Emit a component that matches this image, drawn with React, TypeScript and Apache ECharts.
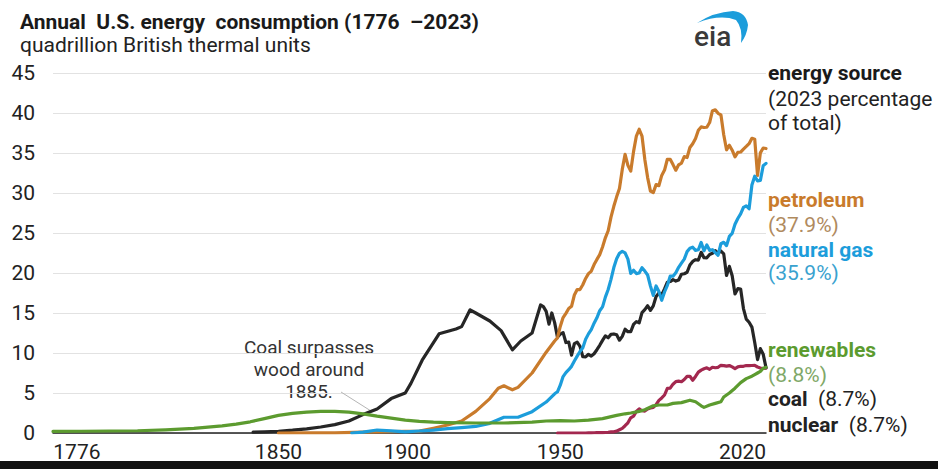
import React, { useEffect, useRef } from "react";
import * as echarts from "echarts";

// Axis extent (years) and the start of the annual record
const AXIS_START = 1770;
const AXIS_END = 2023;
const ANNUAL_FIRST = 1949;

// Tick labels
const yearTicks = [1776, 1850, 1900, 1950, 2020];

// Coal, quadrillion Btu
const coalEarlyYears = [1841, 1845, 1850, 1855, 1860, 1865, 1870, 1875, 1880, 1885, 1890, 1895, 1897, 1901, 1907, 1913, 1915, 1918, 1920, 1925, 1929, 1933, 1936, 1940, 1943, 1944, 1945, 1946, 1947, 1948];
const coalEarly = [0.1, 0.15, 0.22, 0.35, 0.52, 0.75, 1.05, 1.5, 2.3, 3.0, 4.3, 5.0, 6.2, 9.1, 12.4, 13.0, 13.3, 15.4, 15.0, 14.0, 12.8, 10.4, 11.5, 12.5, 16.0, 15.8, 15.2, 13.6, 15.0, 13.8];
const coalAnnual = [
  11.98, 12.35, 12.55, 11.31, 11.37, 9.72, 11.17, 11.35, 10.82, 9.53,
  9.52, 9.84, 9.62, 9.91, 10.41, 10.96, 11.58, 12.14, 11.91, 12.33,
  12.38, 12.27, 11.6, 12.08, 12.97, 12.66, 12.66, 13.58, 13.92, 13.77,
  15.04, 15.42, 15.91, 15.32, 15.89, 17.07, 17.48, 17.26, 18.01, 18.85,
  18.93, 19.17, 18.99, 19.12, 19.84, 19.91, 20.09, 21.0, 21.45, 21.66,
  21.62, 22.58, 21.91, 21.9, 22.32, 22.47, 22.8, 22.45, 22.75, 22.39,
  19.69, 20.83, 19.66, 17.38, 18.04, 17.99, 15.55, 14.23, 13.84, 13.24,
  11.31, 9.18, 10.55, 9.85, 8.17,
];

// Petroleum
const petroleumEarlyYears = [1850, 1860, 1870, 1880, 1890, 1900, 1905, 1910, 1915, 1920, 1925, 1928, 1930, 1933, 1935, 1940, 1945, 1948];
const petroleumEarly = [0, 0.01, 0.01, 0.1, 0.16, 0.23, 0.6, 1.0, 1.5, 2.7, 4.3, 5.6, 5.9, 5.4, 5.7, 7.5, 10.1, 11.5];
const petroleumAnnual = [
  11.88, 13.32, 14.43, 14.96, 15.56, 15.84, 17.25, 17.94, 17.93, 18.53,
  19.32, 19.92, 20.22, 21.05, 21.7, 22.3, 23.25, 24.4, 25.28, 26.98,
  28.34, 29.52, 30.56, 32.95, 34.84, 33.45, 32.73, 35.17, 37.12, 37.97,
  37.12, 34.2, 31.93, 30.23, 30.05, 31.05, 30.92, 32.2, 32.86, 34.22,
  34.21, 33.55, 32.85, 33.52, 33.74, 34.56, 34.44, 35.68, 36.16, 36.82,
  37.84, 38.26, 38.19, 38.22, 38.81, 40.29, 40.39, 39.96, 39.77, 37.28,
  35.4, 35.97, 35.35, 34.53, 35.07, 35.12, 35.49, 35.82, 36.17, 36.84,
  36.72, 32.19, 35.02, 35.62, 35.56,
];

// Natural gas
const gasEarlyYears = [1876, 1880, 1885, 1890, 1895, 1900, 1905, 1910, 1915, 1920, 1925, 1930, 1935, 1940, 1945, 1948];
const gasEarly = [0, 0.1, 0.37, 0.26, 0.15, 0.25, 0.37, 0.54, 0.67, 0.82, 1.21, 1.97, 1.97, 2.67, 3.87, 4.9];
const gasAnnual = [
  5.15, 5.97, 7.05, 7.55, 7.91, 8.33, 9.0, 9.61, 10.19, 10.66,
  11.72, 12.39, 12.93, 13.73, 14.4, 15.29, 15.77, 16.99, 17.94, 19.21,
  20.68, 21.79, 22.47, 22.7, 22.51, 21.73, 19.95, 20.35, 19.93, 20.0,
  20.67, 20.24, 19.75, 18.36, 17.2, 18.38, 17.7, 16.59, 17.64, 18.45,
  19.6, 19.6, 20.03, 20.71, 21.23, 21.73, 22.67, 23.09, 23.22, 22.83,
  22.91, 23.82, 22.77, 23.51, 22.83, 22.91, 22.56, 22.22, 23.66, 23.84,
  23.42, 24.57, 24.95, 26.09, 26.81, 27.38, 28.19, 28.4, 28.03, 31.0,
  32.1, 31.51, 31.57, 33.4, 33.7,
];

// Nuclear (annual record only)
const nuclearAnnual = [
  0, 0, 0, 0, 0, 0, 0, 0, 0, 0,
  0, 0.01, 0.02, 0.03, 0.04, 0.04, 0.04, 0.06, 0.09, 0.14,
  0.15, 0.24, 0.41, 0.58, 0.91, 1.27, 1.9, 2.11, 2.7, 3.02,
  2.78, 2.74, 3.01, 3.13, 3.2, 3.55, 4.08, 4.38, 4.75, 5.59,
  5.6, 6.1, 6.42, 6.48, 6.41, 6.69, 7.08, 7.09, 6.6, 7.07,
  7.61, 7.86, 8.03, 8.15, 7.96, 8.22, 8.16, 8.21, 8.46, 8.43,
  8.36, 8.43, 8.27, 8.06, 8.27, 8.34, 8.34, 8.43, 8.42, 8.44,
  8.45, 8.25, 8.13, 8.06, 8.1,
];

// Renewables (wood in the early years)
const renewableYears = [1770, 1780, 1790, 1800, 1810, 1820, 1830, 1835, 1840, 1845, 1850, 1855, 1860, 1865, 1870, 1875, 1880, 1885, 1890, 1895, 1900, 1905, 1910, 1920, 1930, 1940, 1945, 1950, 1955, 1960, 1965, 1970, 1973, 1975, 1978, 1980, 1983, 1985, 1988, 1990, 1993, 1996, 1998, 2000, 2001, 2003, 2005, 2007, 2008, 2010, 2012, 2014, 2016, 2018, 2019, 2020, 2021, 2022, 2023];
const renewableValues = [0.2, 0.22, 0.25, 0.28, 0.4, 0.58, 0.9, 1.1, 1.4, 1.8, 2.2, 2.45, 2.6, 2.7, 2.7, 2.6, 2.4, 2.1, 1.85, 1.6, 1.45, 1.35, 1.3, 1.25, 1.25, 1.35, 1.5, 1.55, 1.5, 1.6, 1.8, 2.2, 2.4, 2.5, 2.7, 2.9, 3.4, 3.5, 3.5, 3.7, 3.8, 4.1, 3.9, 3.4, 3.2, 3.5, 3.7, 3.9, 4.5, 5.0, 5.6, 6.3, 6.8, 7.1, 7.3, 7.5, 7.7, 8.1, 8.2];

// 2023 shares shown beside the lines
const shares = { petroleum: "37.9%", gas: "35.9%", renewables: "8.8%", coal: "8.7%", nuclear: "8.7%" };

const COLORS = {
  petroleum: "#c97b2c",
  gas: "#1c9ddb",
  renewables: "#5c9b2f",
  coal: "#262626",
  nuclear: "#a3284f",
};

const FONT = "Roboto, 'Noto Sans', sans-serif";
const FS = 21;

function pairs(years: number[], values: number[]): [number, number][] {
  return years.map((y, i) => [y, values[i]]);
}

function annualPairs(values: number[]): [number, number][] {
  return values.map((v, i) => [ANNUAL_FIRST + i, v]);
}

const SWOOSH =
  "M697 23 Q714 12 733 11 Q746 12 748 25 Q747 35 741 43 Q743 28 736 20 Q720 14 697 23 Z";

export default function App() {
  const ref = useRef<HTMLDivElement>(null);

  useEffect(() => {
    if (!ref.current) return;
    echarts.graphic.registerShape("eiaSwoosh", echarts.graphic.extendPath(SWOOSH, {}));
    const chart = echarts.init(ref.current, undefined, { renderer: "svg" });

    const line = (name: string, color: string, data: [number, number][], z: number) => ({
      name,
      type: "line",
      data,
      showSymbol: false,
      symbol: "none",
      z,
      lineStyle: { color, width: 3.2, join: "round", cap: "round" },
      emphasis: { disabled: true },
    });

    const xLabelRich: Record<string, any> = {
      t1776: { padding: [0, 0, 0, 14] },
      t1850: { padding: [0, 0, 0, 0] },
      t1900: { padding: [0, 24, 0, 0] },
      t1950: { padding: [0, 0, 0, 0] },
      t2020: { padding: [0, 30, 0, 0] },
    };
    Object.values(xLabelRich).forEach((s) => {
      s.fontSize = FS;
      s.color = "#222";
      s.fontFamily = FONT;
    });

    const sideText = (y: number, text: string, rich?: any, font?: string, fill?: string) => ({
      type: "text",
      x: 768,
      y,
      style: {
        text,
        font: font || `${FS}px ${FONT}`,
        fill: fill || "#222",
        align: "left",
        verticalAlign: "middle",
        rich,
      },
    });

    const pctRich = (nameColor: string, pctColor: string) => ({
      n: { fontFamily: FONT, fontSize: FS, fontWeight: "bold", color: nameColor },
      p: { fontFamily: FONT, fontSize: FS, color: pctColor },
    });

    const note = (y: number, text: string) => ({
      type: "text",
      x: 309,
      y,
      style: { text, font: `19px ${FONT}`, fill: "#333", align: "center", verticalAlign: "middle" },
    });

    chart.setOption({
      animation: false,
      backgroundColor: "#ffffff",
      grid: { left: 53, right: 172, top: 73, bottom: 36 },
      xAxis: {
        type: "value",
        min: AXIS_START,
        max: AXIS_END,
        axisLine: { show: true, lineStyle: { color: "#222", width: 1.5 } },
        axisTick: { show: false },
        splitLine: { show: false },
        axisLabel: {
          customValues: yearTicks,
          margin: 8,
          fontSize: FS,
          color: "#222",
          fontFamily: FONT,
          formatter: (v: number) => `{t${v}|${v}}`,
          rich: xLabelRich,
        },
      },
      yAxis: {
        type: "value",
        min: 0,
        max: 45,
        interval: 5,
        axisLine: { show: false },
        axisTick: { show: false },
        splitLine: { lineStyle: { color: "#e2e2e2", width: 1.2 } },
        axisLabel: { fontSize: FS, color: "#222", fontFamily: FONT, margin: 18 },
      },
      series: [
        line("nuclear", COLORS.nuclear, annualPairs(nuclearAnnual), 2),
        line("coal", COLORS.coal, [...pairs(coalEarlyYears, coalEarly), ...annualPairs(coalAnnual)], 3),
        line("petroleum", COLORS.petroleum, [...pairs(petroleumEarlyYears, petroleumEarly), ...annualPairs(petroleumAnnual)], 4),
        line("natural gas", COLORS.gas, [...pairs(gasEarlyYears, gasEarly), ...annualPairs(gasAnnual)], 5),
        line("renewables", COLORS.renewables, pairs(renewableYears, renewableValues), 6),
      ],
      graphic: [
        {
          type: "text",
          x: 20,
          y: 22,
          style: {
            text: "Annual  U.S. energy  consumption (1776  \u20132023)",
            font: `bold ${FS}px ${FONT}`,
            fill: "#1a1a1a",
            verticalAlign: "middle",
          },
        },
        {
          type: "text",
          x: 20,
          y: 45,
          style: {
            text: "quadrillion British thermal units",
            font: `${FS}px ${FONT}`,
            fill: "#222",
            verticalAlign: "middle",
          },
        },
        // eia logo
        {
          type: "text",
          x: 694,
          y: 36,
          style: {
            text: "eia",
            font: `500 28px ${FONT}`,
            fill: "#3a3a3a",
            verticalAlign: "middle",
          },
        },
        { type: "eiaSwoosh", x: 0, y: 0, style: { fill: "#1c9ddb" } },
        // side legend
        sideText(73, "energy source", undefined, `bold ${FS}px ${FONT}`, "#1a1a1a"),
        sideText(99, "(2023 percentage"),
        sideText(123, "of total)"),
        sideText(200, "petroleum", undefined, `bold ${FS}px ${FONT}`, COLORS.petroleum),
        sideText(225, `(${shares.petroleum})`, undefined, `${FS}px ${FONT}`, "#b08a5e"),
        sideText(250, "natural gas", undefined, `bold ${FS}px ${FONT}`, COLORS.gas),
        sideText(273, `(${shares.gas})`, undefined, `${FS}px ${FONT}`, "#3aa2cf"),
        sideText(350, "renewables", undefined, `bold ${FS}px ${FONT}`, COLORS.renewables),
        sideText(375, `(${shares.renewables})`, undefined, `${FS}px ${FONT}`, "#7fa867"),
        sideText(399, `{n|coal}  {p|(${shares.coal})}`, pctRich("#2a2a2a", "#444")),
        sideText(425, `{n|nuclear}  {p|(${shares.nuclear})}`, pctRich(COLORS.nuclear, "#9c4f6a")),
        // annotation
        note(347, "Coal surpasses"),
        note(369, "wood around"),
        note(391, "1885."),
        {
          type: "line",
          shape: { x1: 341, y1: 392, x2: 371, y2: 411 },
          style: { stroke: "#b5b5b5", lineWidth: 1 },
          z: 1,
        },
        // bottom band
        { type: "rect", shape: { x: 0, y: 461, width: 938, height: 8 }, style: { fill: "#111" } },
      ],
    });

    return () => chart.dispose();
  }, []);

  return (
    <div
      ref={ref}
      style={{ position: "fixed", left: 0, top: 0, width: 938, height: 469, background: "#fff" }}
    />
  );
}
